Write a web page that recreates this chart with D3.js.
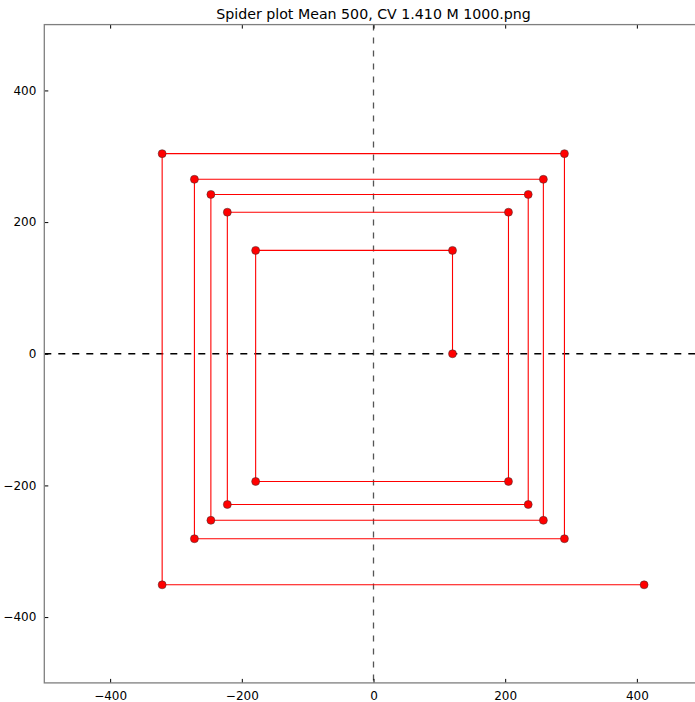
<!DOCTYPE html>
<html>
<head>
<meta charset="utf-8">
<script src="https://cdn.jsdelivr.net/npm/d3@7.9.0/dist/d3.min.js"></script>
<style>
  body { margin: 0; background: #fff; }
  svg { display: block; font-family: "DejaVu Sans", sans-serif; }
</style>
</head>
<body>
<svg id="chart" width="695" height="702"></svg>
<script>
// spider path
const xVals = [120, 120, -179, -179, 205, 205, -222, -222, 235, 235, -247, -247, 258, 258, -272, -272, 290, 290, -321, -321, 411];
const yVals = [0, 157, 157, -194, -194, 215, 215, -229, -229, 242, 242, -253, -253, 265, 265, -281, -281, 304, 304, -351, -351];
const xTicks = [-400, -200, 0, 200, 400];
const yTicks = [-400, -200, 0, 200, 400];
const title = 'Spider plot Mean 500, CV 1.410 M 1000.png';

const points = xVals.map((x, i) => ({ x: x, y: yVals[i] }));

const svg = d3.select('#chart');
const plotLeft = 44.3, plotRight = 702.7, plotTop = 24.6, plotBottom = 682.9;

const x = d3.scaleLinear().domain([-500, 500]).range([plotLeft, plotRight]);
const y = d3.scaleLinear().domain([-500, 500]).range([plotBottom, plotTop]);

const fmt = d => d < 0 ? '\u2212' + Math.abs(d) : String(d);

// reference lines
svg.append('line')
  .attr('x1', x(0)).attr('x2', x(0))
  .attr('y1', plotTop).attr('y2', plotBottom)
  .attr('stroke', '#555').attr('stroke-width', 1.3)
  .attr('stroke-dasharray', '6,7');

svg.append('line')
  .attr('x1', plotLeft).attr('x2', plotRight)
  .attr('y1', y(0)).attr('y2', y(0))
  .attr('stroke', '#000').attr('stroke-width', 1.6)
  .attr('stroke-dasharray', '7,7');

// the spider line
const line = d3.line().x(d => x(d.x)).y(d => y(d.y));
svg.append('path')
  .datum(points)
  .attr('d', line)
  .attr('fill', 'none')
  .attr('stroke', '#ff0000')
  .attr('stroke-width', 1.1);

svg.selectAll('circle')
  .data(points)
  .join('circle')
  .attr('cx', d => x(d.x))
  .attr('cy', d => y(d.y))
  .attr('r', 4)
  .attr('fill', '#ff0000')
  .attr('stroke', '#333')
  .attr('stroke-width', 0.5);

// axes: ticks inward, on all sides
const bottomAxis = d3.axisBottom(x).tickValues(xTicks).tickSizeInner(-4).tickSizeOuter(0).tickPadding(9).tickFormat(fmt);
const topAxis = d3.axisTop(x).tickValues(xTicks).tickSizeInner(-4).tickSizeOuter(0).tickFormat('');
const leftAxis = d3.axisLeft(y).tickValues(yTicks).tickSizeInner(-4).tickSizeOuter(0).tickPadding(8).tickFormat(fmt);
const rightAxis = d3.axisRight(y).tickValues(yTicks).tickSizeInner(-4).tickSizeOuter(0).tickFormat('');

function styleAxis(g) {
  g.select('.domain').remove();
  g.selectAll('.tick line').attr('stroke', '#000').attr('stroke-width', 1);
  g.selectAll('.tick text').attr('fill', '#000').style('font-size', '12px').style('font-family', '"DejaVu Sans", sans-serif');
}

svg.append('g').attr('transform', `translate(0,${plotBottom})`).call(bottomAxis).call(styleAxis);
svg.append('g').attr('transform', `translate(0,${plotTop})`).call(topAxis).call(styleAxis);
svg.append('g').attr('transform', `translate(${plotLeft},0)`).call(leftAxis).call(styleAxis);
svg.append('g').attr('transform', `translate(${plotRight},0)`).call(rightAxis).call(styleAxis);

// frame
svg.append('rect')
  .attr('x', plotLeft).attr('y', plotTop)
  .attr('width', plotRight - plotLeft).attr('height', plotBottom - plotTop)
  .attr('fill', 'none')
  .attr('stroke', '#7f7f7f')
  .attr('stroke-width', 1.3);

svg.append('text')
  .attr('x', (plotLeft + plotRight) / 2)
  .attr('y', 19)
  .attr('text-anchor', 'middle')
  .style('font-size', '14.2px')
  .text(title);
</script>
</body>
</html>
